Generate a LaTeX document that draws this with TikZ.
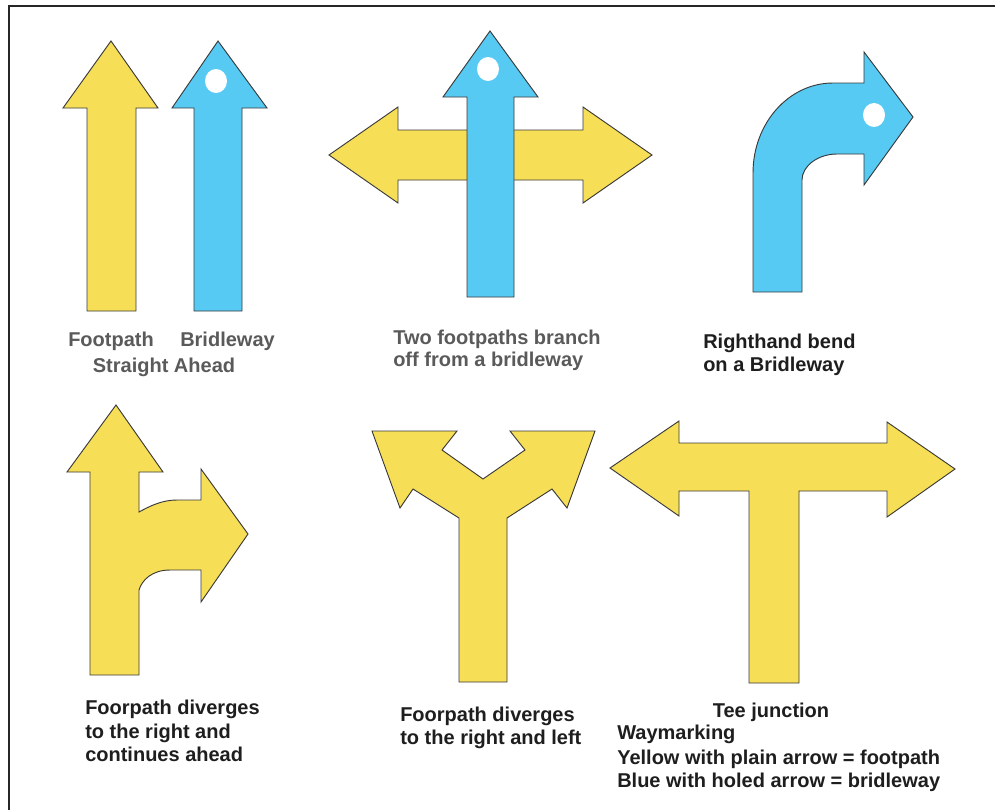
\documentclass[tikz,border=0pt]{standalone}
\usepackage{fontspec}
\setmainfont{Liberation Sans}
\definecolor{ylw}{HTML}{F7DE57}
\definecolor{blu}{HTML}{57CAF3}
\definecolor{capgray}{HTML}{5A5A5A}
\definecolor{capdark}{HTML}{1E1E1E}
\definecolor{edge}{HTML}{3A3A3A}
\begin{document}
\begin{tikzpicture}[x=0.75pt,y=-0.75pt,
  foot/.style={fill=ylw,draw=edge,line width=0.7pt,line join=miter},
  bridle/.style={fill=blu,draw=edge,line width=0.7pt,line join=miter},
  hole/.style={fill=white,draw=none},
  capg/.style={font=\bfseries\fontsize{15}{18}\selectfont,text=capgray,inner sep=0pt,anchor=base west},
  capk/.style={font=\bfseries\fontsize{15}{18}\selectfont,text=capdark,inner sep=0pt,anchor=base west}]
\useasboundingbox (0,0) rectangle (995,810);
\fill[white] (0,0) rectangle (995,810);
\draw[line width=1.5pt,black!85] (9,810) -- (9,6) -- (995,6);

% top-left: footpath and bridleway straight ahead
\draw[foot] (87,311) -- (87,108) -- (63,108) -- (111,41) -- (158,108) -- (136,108) -- (136,311) -- cycle;
\draw[bridle] (194,311) -- (194,108) -- (172,108) -- (218,41) -- (267,108) -- (242,108) -- (242,311) -- cycle;
\fill[hole] (216,81) ellipse [x radius=11, y radius=12];
\node[capg] (tfoot) at (68,346) {Footpath};
\node[capg] (tbridle) at (180,346) {Bridleway};
\node[capg,anchor=base] (tstraight) at (164,372) {Straight Ahead};

% top-middle: two footpaths branch off a bridleway
\draw[foot] (329,155) -- (398,107) -- (398,130) -- (583,130) -- (583,107) -- (652,155) -- (583,203) -- (583,180) -- (398,180) -- (398,203) -- cycle;
\draw[bridle] (467,297) -- (467,97) -- (443,97) -- (490,31) -- (538,97) -- (514,97) -- (514,297) -- cycle;
\fill[hole] (488,69) ellipse [x radius=11, y radius=12];
\node[capg] (ttwo1) at (393,344) {Two footpaths branch};
\node[capg] (ttwo2) at (393,366) {off from a bridleway};

% top-right: righthand bend on a bridleway
\draw[bridle] (753,292) -- (753,173) .. controls (753,123) and (789,83) .. (833,83) -- (864,83) -- (864,52) -- (913,117) -- (864,185) -- (864,154) -- (837,154) .. controls (818,154) and (802,166) .. (802,180) -- (802,292) -- cycle;
\fill[hole] (874,115) ellipse [x radius=11, y radius=12];
\node[capk] (tbend1) at (703,348) {Righthand bend};
\node[capk] (tbend2) at (703,371) {on a Bridleway};

% bottom-left: diverges right and continues ahead
\draw[foot] (90,675) -- (90,472) -- (67,472) -- (116,405) -- (163,472) -- (139,472) -- (139,512) .. controls (150,506) and (162,500) .. (177,500) -- (201,500) -- (201,469) -- (248,534) -- (201,602) -- (201,570) -- (170,570) .. controls (152,570) and (142,580) .. (139,590) -- (139,675) -- cycle;
\node[capk] (tdiv1) at (85,714) {Foorpath diverges};
\node[capk] (tdiv2) at (85,738) {to the right and};
\node[capk] (tdiv3) at (85,761) {continues ahead};

% bottom-middle: diverges right and left
\draw[foot] (372,431) -- (457,431) -- (442,450) -- (483,479) -- (525,450) -- (510,431) -- (595,431) -- (567,508) -- (552,489) -- (507,518) -- (507,682) -- (459,682) -- (459,518) -- (413,489) -- (400,508) -- cycle;
\node[capk] (tlr1) at (400,721) {Foorpath diverges};
\node[capk] (tlr2) at (400,744) {to the right and left};

% bottom-right: tee junction
\draw[foot] (610,468) -- (679,421) -- (679,443) -- (887,443) -- (887,422) -- (955,469) -- (887,517) -- (887,491) -- (799,491) -- (799,683) -- (749,683) -- (749,491) -- (679,491) -- (679,516) -- cycle;
\node[capk,anchor=base] (ttee) at (771,717) {Tee junction};
\node[capk] (tway) at (617,739) {Waymarking};
\node[capk] (tyel) at (617,764) {Yellow with plain arrow = footpath};
\node[capk] (tblu) at (617,787) {Blue with holed arrow = bridleway};
\end{tikzpicture}
\end{document}
